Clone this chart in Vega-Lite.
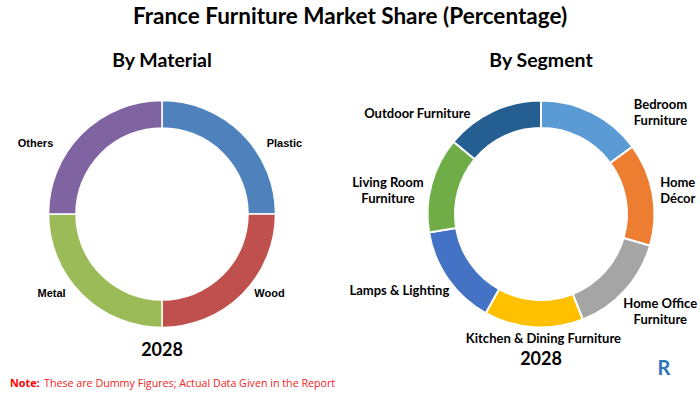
{
  "$schema": "https://vega.github.io/schema/vega-lite/v6.json",
  "background": "white",
  "padding": {"left": 0, "top": 5, "right": 0, "bottom": 3},
  "bounds": "flush",
  "title": {"text": "France Furniture Market Share (Percentage)", "font": "Lato", "fontSize": 22.5, "fontWeight": "bold", "color": "#000000", "anchor": "middle", "offset": 23},
  "config": {"view": {"stroke": null}, "title": {"font": "Lato", "fontWeight": "bold", "color": "#000000"}},
  "resolve": {"scale": {"color": "independent", "theta": "independent"}},
  "spacing": 58,
  "hconcat": [
    {
      "width": 324,
      "height": 270,
      "title": {"text": "By Material", "fontSize": 19.5, "offset": 7.5},
      "data": {"values": [
        {"material": "Plastic", "share": 25, "rank": 1},
        {"material": "Wood", "share": 25, "rank": 2},
        {"material": "Metal", "share": 25, "rank": 3},
        {"material": "Others", "share": 25, "rank": 4}
      ]},
      "layer": [
        {
          "mark": {"type": "arc", "outerRadius": 113.5, "innerRadius": 86, "stroke": "white", "strokeWidth": 1.5},
          "encoding": {
            "theta": {"field": "share", "type": "quantitative", "stack": true},
            "order": {"field": "rank", "type": "quantitative"},
            "color": {"field": "material", "type": "nominal", "scale": {"domain": ["Plastic", "Wood", "Metal", "Others"], "range": ["#4F81BD", "#C0504D", "#9BBB59", "#8064A2"]}, "legend": null}
          }
        },
        {
          "mark": {"type": "text", "radius": 135, "font": "Liberation Sans", "fontSize": 11, "fontWeight": "bold", "color": "#000000", "align": "center", "baseline": "middle",
            "dx": {"expr": "[27, 12, -15, -31][datum.rank - 1]"},
            "dy": {"expr": "[25, -15, -15, 25][datum.rank - 1]"}},
          "encoding": {
            "theta": {"field": "share", "type": "quantitative", "stack": true},
            "order": {"field": "rank", "type": "quantitative"},
            "detail": {"field": "material", "type": "nominal"},
            "text": {"field": "material", "type": "nominal"}
          }
        },
        {
          "data": {"values": [{"year": "2028"}]},
          "mark": {"type": "text", "font": "Lato", "fontSize": 18, "fontWeight": "bold", "color": "#000000", "dy": 137, "baseline": "middle"},
          "encoding": {"text": {"field": "year", "type": "nominal"}}
        },
        {
          "data": {"values": [{"lead": "Note:", "body": "These are Dummy Figures; Actual Data Given in the Report"}]},
          "layer": [
            {
              "mark": {"type": "text", "font": "Open Sans", "fontSize": 10.8, "fontWeight": "bold", "color": "#FF0000", "align": "left", "baseline": "middle", "dx": -152, "dy": 170},
              "encoding": {"text": {"field": "lead", "type": "nominal"}}
            },
            {
              "mark": {"type": "text", "font": "Open Sans", "fontSize": 10.7, "color": "#F02424", "align": "left", "baseline": "middle", "dx": -118, "dy": 170},
              "encoding": {"text": {"field": "body", "type": "nominal"}}
            }
          ]
        }
      ]
    },
    {
      "width": 318,
      "height": 270,
      "title": {"text": "By Segment", "fontSize": 19.5, "offset": 7.5},
      "data": {"values": [
        {"segment": "Bedroom Furniture", "label": ["Bedroom", "Furniture"], "share": 14.9, "rank": 1},
        {"segment": "Home Décor", "label": ["Home", "Décor"], "share": 14.6, "rank": 2},
        {"segment": "Home Office Furniture", "label": ["Home Office", "Furniture"], "share": 14.5, "rank": 3},
        {"segment": "Kitchen & Dining Furniture", "label": ["Kitchen & Dining Furniture"], "share": 14.1, "rank": 4},
        {"segment": "Lamps & Lighting", "label": ["Lamps & Lighting"], "share": 14.3, "rank": 5},
        {"segment": "Living Room Furniture", "label": ["Living Room", "Furniture"], "share": 13.6, "rank": 6},
        {"segment": "Outdoor Furniture", "label": ["Outdoor Furniture"], "share": 14.0, "rank": 7}
      ]},
      "layer": [
        {
          "mark": {"type": "arc", "outerRadius": 113.5, "innerRadius": 86, "stroke": "white", "strokeWidth": 2},
          "encoding": {
            "theta": {"field": "share", "type": "quantitative", "stack": true},
            "order": {"field": "rank", "type": "quantitative"},
            "color": {"field": "segment", "type": "nominal", "scale": {"domain": ["Bedroom Furniture", "Home Décor", "Home Office Furniture", "Kitchen & Dining Furniture", "Lamps & Lighting", "Living Room Furniture", "Outdoor Furniture"], "range": ["#5B9BD5", "#ED7D31", "#A5A5A5", "#FFC000", "#4472C4", "#70AD47", "#255E91"]}, "legend": null}
          }
        },
        {
          "mark": {"type": "text", "radius": 145, "font": "Lato", "fontSize": 13, "fontWeight": "bold", "color": "#000000", "align": "center", "baseline": "middle", "lineHeight": 16,
            "dx": {"expr": "[54, -6, 12, 12, -23, -13, -62][datum.rank - 1]"},
            "dy": {"expr": "[20, -6, -8, -20, -6, 7, 31][datum.rank - 1]"}},
          "encoding": {
            "theta": {"field": "share", "type": "quantitative", "stack": true},
            "order": {"field": "rank", "type": "quantitative"},
            "detail": {"field": "segment", "type": "nominal"},
            "text": {"field": "label", "type": "nominal"}
          }
        },
        {
          "data": {"values": [{"year": "2028"}]},
          "mark": {"type": "text", "font": "Lato", "fontSize": 18, "fontWeight": "bold", "color": "#000000", "dy": 146, "baseline": "middle"},
          "encoding": {"text": {"field": "year", "type": "nominal"}}
        },
        {
          "data": {"values": [{"logo": "R"}]},
          "mark": {"type": "text", "font": "Lato", "fontSize": 20, "fontWeight": "bold", "color": "#2E75B6", "dx": 123, "dy": 155, "baseline": "middle"},
          "encoding": {"text": {"field": "logo", "type": "nominal"}}
        }
      ]
    }
  ]
}
